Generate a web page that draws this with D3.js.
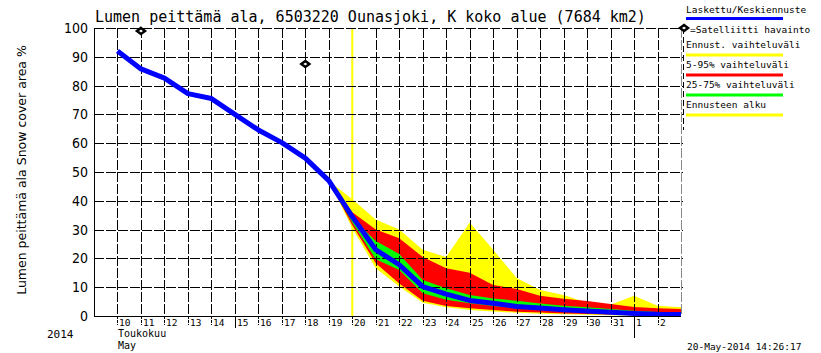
<!DOCTYPE html>
<html><head><meta charset="utf-8">
<script src="https://cdn.jsdelivr.net/npm/d3@7"></script>
<style>body{margin:0;background:#fff}svg{display:block}</style>
</head><body>
<svg id="c" width="821" height="353"></svg>
<script>
// day numbers: May 10 = 10 ... May 31 = 31, Jun 1 = 32, Jun 2 = 33, Jun 3 = 34
const days = d3.range(10, 35);
const medianVals = [92, 85.8, 82.6, 77.2, 75.5, 70, 64.6, 60.2, 54.8, 47, 34.5, 23, 17.8, 10.2, 7.6, 5.4, 4.4, 3.3, 2.8, 2.2, 1.7, 1.3, 0.9, 0.6, 0.5];
const bandDays = d3.range(19, 35);
const yellowHi = [47, 40.5, 33.5, 30, 23, 20.5, 32.5, 23, 13.2, 9, 7.3, 4.6, 3.9, 7, 3.6, 3];
const redHi    = [47, 36, 30, 27, 20.5, 16.6, 15, 10.8, 9.4, 7, 6, 5.2, 4.2, 3.1, 2.7, 2.4];
const greenHi  = [47, 34, 26, 21.5, 12.5, 9.6, 7.3, 6.1, 5.3, 4.3, 3.6, 3, 2.4, 1.8, 1.4, 1.2];
const greenLo  = [47, 32.5, 19.7, 16, 7.9, 5.6, 4.4, 3.5, 2.7, 2.2, 1.7, 1.3, 1, 0.7, 0.5, 0.4];
const redLo    = [47, 31.5, 18.3, 11.3, 5.3, 3.5, 2.7, 2.1, 1.5, 1.2, 0.9, 0.7, 0.5, 0.4, 0.3, 0.3];
const yellowLo = [47, 30.5, 16.6, 10.2, 4.6, 3, 2.1, 1.6, 1.1, 0.8, 0.6, 0.4, 0.3, 0.2, 0.2, 0.2];
const satDays = [11, 18];
const satVals = [99, 87.5];
const forecastStart = 20;
const tickDays = d3.range(10, 34);
const tickLabels = ["10","11","12","13","14","15","16","17","18","19","20","21","22","23","24","25","26","27","28","29","30","31","1","2"];
const yTicks = [0,10,20,30,40,50,60,70,80,90,100];
const legendItems = [
  {label:"Ennust. vaihteluväli", color:"#ffff00"},
  {label:"5-95% vaihteluväli", color:"#ff0000"},
  {label:"25-75% vaihteluväli", color:"#00ff00"},
  {label:"Ennusteen alku", color:"#ffff00"}
];

const svg = d3.select("#c");
const x = d3.scaleLinear().domain([9, 34]).range([94, 681]);
const y = d3.scaleLinear().domain([0, 100]).range([316, 28]);
const mono = "'DejaVu Sans Mono', monospace";

const band = (hi, lo) => d3.area().x((d,i)=>x(bandDays[i])).y0((d,i)=>y(lo[i])).y1((d,i)=>y(hi[i]))(bandDays);

function drawGrid(skipStart) {
  const g = svg.append("g").attr("stroke","#000").attr("stroke-width",1).attr("stroke-dasharray","10,2");
  yTicks.slice(1).forEach(t=>{
    g.append("line").attr("x1",94).attr("x2",683).attr("y1",Math.round(y(t))+0.5).attr("y2",Math.round(y(t))+0.5);
  });
  d3.range(10, 35).forEach(d=>{
    if (skipStart && d===forecastStart) return;
    g.append("line").attr("x1",Math.round(x(d))+0.5).attr("x2",Math.round(x(d))+0.5).attr("y1",y(100)).attr("y2",y(0))
     .attr("stroke", d===34 ? "#888" : "#000").attr("stroke-dasharray", d===34 ? null : "10,2");
  });
}

drawGrid(false);
// yellow forecast start line
svg.append("line").attr("x1",x(forecastStart)).attr("x2",x(forecastStart)).attr("y1",y(100)).attr("y2",y(0))
  .attr("stroke","#ffff00").attr("stroke-width",2);

svg.append("path").attr("d",band(yellowHi,yellowLo)).attr("fill","#ffff00");
svg.append("path").attr("d",band(redHi,redLo)).attr("fill","#ff0000");
svg.append("path").attr("d",band(greenHi,greenLo)).attr("fill","#00ff00");

drawGrid(true);

// legend dashed line on right
svg.append("line").attr("x1",683.5).attr("x2",683.5).attr("y1",28).attr("y2",130).attr("stroke","#000").attr("stroke-dasharray","6,3");

// median line
svg.append("path").datum(medianVals)
  .attr("d", d3.line().x((d,i)=>x(days[i])).y(d=>y(d)))
  .attr("fill","none").attr("stroke","#0000ff").attr("stroke-width",5).attr("stroke-linejoin","round");

// clip bottom of blue below axis
svg.append("rect").attr("x",94).attr("y",317).attr("width",590).attr("height",6).attr("fill","#fff");

// axes lines
svg.append("line").attr("x1",94.5).attr("x2",94.5).attr("y1",28).attr("y2",316).attr("stroke","#000");
svg.append("line").attr("x1",94).attr("x2",681).attr("y1",316.5).attr("y2",316.5).attr("stroke","#000");

// y tick labels
svg.append("g").selectAll("text").data(yTicks).join("text")
  .attr("x",88).attr("y",d=>y(d)+5).attr("text-anchor","end")
  .attr("font-family","'DejaVu Sans Condensed','DejaVu Sans',sans-serif").attr("font-size",14).attr("fill","#000")
  .text(d=>d);

// x ticks
const xt = svg.append("g");
tickDays.forEach((d,i)=>{
  const xx = Math.round(x(d))+0.5;
  const len = d===32 ? 22 : (d===15 ? 12 : 9);
  xt.append("line").attr("x1",xx).attr("x2",xx).attr("y1",316).attr("y2",316+len).attr("stroke","#000")
    .attr("stroke-dasharray", (d===32||d===15) ? null : "3,1");
  xt.append("text").attr("x",xx+1.5).attr("y",326).attr("font-family",mono).attr("font-size",9.5).attr("fill","#000").text(tickLabels[i]);
});

svg.append("text").attr("x",47).attr("y",338).attr("font-family",mono).attr("font-size",11).text("2014");
svg.append("text").attr("x",118).attr("y",337).attr("font-family",mono).attr("font-size",10).text("Toukokuu");
svg.append("text").attr("x",118).attr("y",349).attr("font-family",mono).attr("font-size",10).text("May");

// satellite diamonds
const diamond = (cx, cy) => `M${cx},${cy-3}L${cx+4},${cy}L${cx},${cy+3}L${cx-4},${cy}Z`;
satDays.forEach((d,i)=>{
  svg.append("path").attr("d",diamond(x(d),y(satVals[i]))).attr("fill","#fff").attr("stroke","#000").attr("stroke-width",2.5);
});

// title
svg.append("text").attr("x",95).attr("y",22).attr("font-family",mono).attr("font-size",15).attr("fill","#000")
  .text("Lumen peittämä ala, 6503220 Ounasjoki, K koko alue (7684 km2)");

// y label
svg.append("text").attr("transform","translate(26,170) rotate(-90)").attr("text-anchor","middle")
  .attr("font-family","'DejaVu Sans',sans-serif").attr("font-size",12.5).text("Lumen peittämä ala Snow cover area %");

// legend
const lf = 9.5;
svg.append("text").attr("x",686).attr("y",13).attr("font-family",mono).attr("font-size",lf).text("Laskettu/Keskiennuste");
svg.append("line").attr("x1",686).attr("x2",783).attr("y1",18.5).attr("y2",18.5).attr("stroke","#0000ff").attr("stroke-width",3);
svg.append("path").attr("d",diamond(684,28)).attr("fill","#fff").attr("stroke","#000").attr("stroke-width",2.5);
svg.append("text").attr("x",690).attr("y",33).attr("font-family",mono).attr("font-size",lf).text("=Satelliitti havainto");
legendItems.forEach((it,i)=>{
  const by = 48 + i*20;
  svg.append("text").attr("x",686).attr("y",by).attr("font-family",mono).attr("font-size",lf).text(it.label);
  svg.append("line").attr("x1",686).attr("x2",783).attr("y1",by+7).attr("y2",by+7).attr("stroke",it.color).attr("stroke-width",3);
});

svg.append("text").attr("x",687).attr("y",350).attr("font-family",mono).attr("font-size",9.5).text("20-May-2014 14:26:17");
</script>
</body></html>
